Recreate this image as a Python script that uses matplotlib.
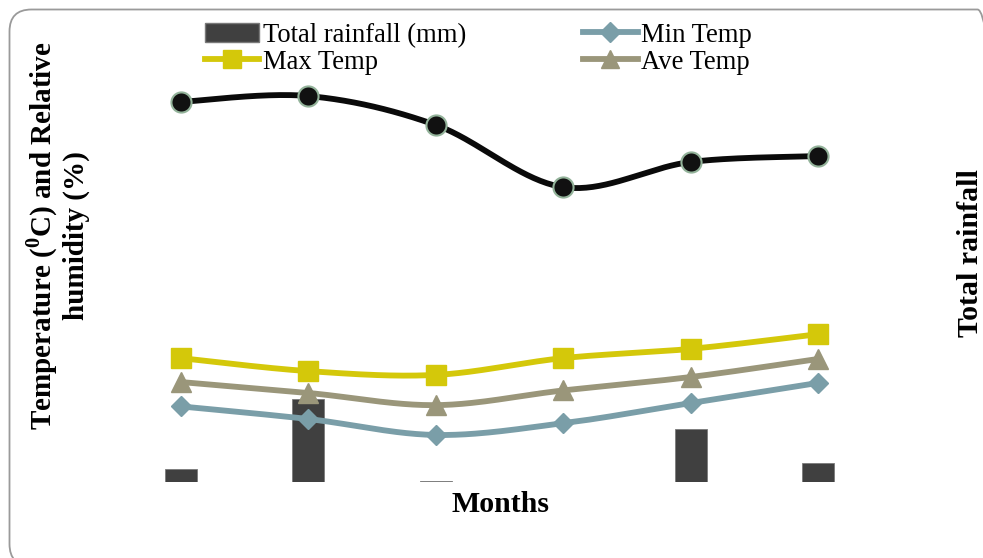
import numpy as np
import matplotlib
matplotlib.use("Agg")
import matplotlib.pyplot as plt
from matplotlib.patches import FancyBboxPatch
from matplotlib.lines import Line2D
from matplotlib.patches import Patch

plt.rcParams["font.family"] = ["Liberation Serif", "DejaVu Serif"]
plt.rcParams["mathtext.fontset"] = "custom"
plt.rcParams["mathtext.rm"] = "Liberation Serif:bold"
plt.rcParams["mathtext.bf"] = "Liberation Serif:bold"

# Six monthly observations
months = ["M1", "M2", "M3", "M4", "M5", "M6"]
rainfall_mm = [9.6, 59.6, 1.0, 0.0, 38.2, 13.9]
humidity_pct = [90.5, 91.9, 85.0, 70.2, 76.2, 77.6]
max_temp = [29.5, 26.4, 25.5, 29.5, 31.7, 35.2]
ave_temp = [23.8, 21.2, 18.3, 21.8, 25.0, 29.3]
min_temp = [18.0, 15.0, 11.2, 14.0, 18.8, 23.6]


def smooth(xs, ys, n=40):
    """Catmull-Rom style smoothed path through the given points."""
    p = np.column_stack([xs, ys]).astype(float)
    p = np.vstack([p[0], p, p[-1]])
    out = []
    t = np.linspace(0, 1, n)
    for i in range(1, len(p) - 2):
        p0, p1, p2, p3 = p[i - 1], p[i], p[i + 1], p[i + 2]
        c1 = p1 + (p2 - p0) / 6.0
        c2 = p2 - (p3 - p1) / 6.0
        seg = ((1 - t) ** 3)[:, None] * p1 + (3 * (1 - t) ** 2 * t)[:, None] * c1 \
            + (3 * (1 - t) * t ** 2)[:, None] * c2 + (t ** 3)[:, None] * p2
        out.append(seg if i == 1 else seg[1:])
    s = np.vstack(out)
    return s[:, 0], s[:, 1]


W, H = 983, 558
fig = plt.figure(figsize=(W / 100, H / 100), dpi=100)

# rounded frame around the whole chart
frame = FancyBboxPatch((9.5, -8), 990, 556.5, boxstyle="round,pad=0,rounding_size=22",
                       transform=None, facecolor="none", edgecolor="#9a9a9a", linewidth=1.3)
fig.patches.append(frame)

left, right, top, bottom = 117, 882, 62, 482
ax = fig.add_axes([left / W, 1 - bottom / H, (right - left) / W, (bottom - top) / H])
ax2 = ax.twinx()

x = np.arange(len(months))

ax2.bar(x, rainfall_mm, width=0.25, color="#404040", edgecolor="#7a7a7a", linewidth=0.6)
ax2.set_ylim(0, 300)

lw = 4.2
specs = [
    (max_temp, "#d4c80a", "s", 14, "Max Temp"),
    (ave_temp, "#9a967a", "^", 14.5, "Ave Temp"),
    (min_temp, "#7a9ea8", "D", 10.5, "Min Temp"),
]
for ys, col, mk, ms, lab in specs:
    sx, sy = smooth(x, ys)
    ax.plot(sx, sy, color=col, linewidth=lw, solid_capstyle="round", zorder=3)
    ax.plot(x, ys, linestyle="none", marker=mk, markersize=ms, color=col, zorder=4)

hx, hy = smooth(x, humidity_pct)
ax.plot(hx, hy, color="#0a0a0a", linewidth=lw, zorder=3)
ax.plot(x, humidity_pct, linestyle="none", marker="o", markersize=14.5,
        markerfacecolor="#111111", markeredgecolor="#93b39a", markeredgewidth=1.5, zorder=4)

ax.set_xlim(-0.5, 5.5)
ax.set_ylim(0, 100)
ax.set_zorder(ax2.get_zorder() + 1)
ax.patch.set_visible(False)
for a in (ax, ax2):
    for sp in a.spines.values():
        sp.set_visible(False)
    a.set_xticks([])
    a.set_yticks([])

handles = [
    Patch(facecolor="#404040", edgecolor="#7a7a7a", label="Total rainfall (mm)"),
    Line2D([], [], color="#d4c80a", linewidth=lw, marker="s", markersize=13, label="Max Temp"),
    Line2D([], [], color="#7a9ea8", linewidth=lw, marker="D", markersize=10, label="Min Temp"),
    Line2D([], [], color="#9a967a", linewidth=lw, marker="^", markersize=13, label="Ave Temp"),
]
fig.legend(handles=handles, ncol=2, loc="upper left", bbox_to_anchor=(186 / W, 1 - 4 / H),
           frameon=False, fontsize=19.2, handlelength=2.05, handletextpad=0.12,
           labelspacing=0.08, columnspacing=4.4, borderpad=0.2)

bold = dict(fontsize=21.5, fontweight="bold")
fig.text(57 / W, 1 - 236 / H, "Temperature ($^{0}$C) and Relative\nhumidity (%)",
         rotation=90, ha="center", va="center", linespacing=1.12,
         fontsize=21, fontweight="bold")
fig.text(970 / W, 1 - 253 / H, "Total rainfall", rotation=90, ha="center", va="center", **bold)
fig.text(500 / W, 1 - 505 / H, "Months", ha="center", va="center", **bold)

fig.savefig("out.png", dpi=100)
